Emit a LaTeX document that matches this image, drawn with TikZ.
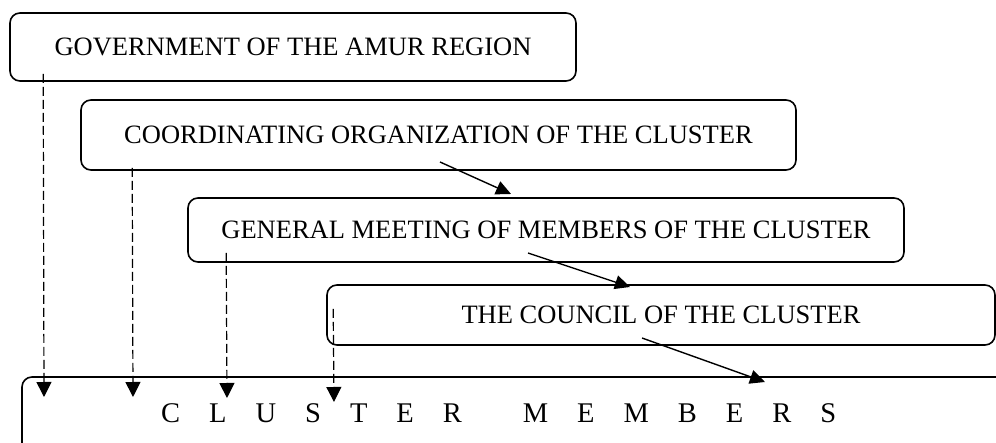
\documentclass[tikz,border=0pt]{standalone}
\usepackage{fontspec}
\setmainfont{Liberation Serif}
\usetikzlibrary{arrows.meta}
\begin{document}
\begin{tikzpicture}[x=1pt,y=-1pt,
  box/.style={draw,line width=1.6pt,rounded corners=10pt,inner sep=0pt,
    font=\fontsize{26.5}{30}\selectfont},
  dasharrow/.style={line width=1.2pt,dash pattern=on 9pt off 4pt,
    -{Triangle[width=15pt,length=15pt]}},
  solidarrow/.style={line width=1.4pt,-{Triangle[width=14pt,length=15pt]}}]
\useasboundingbox (0,0) rectangle (996,443);
\node[box,minimum width=566pt,minimum height=68pt] (box1) at (293,47) {GOVERNMENT OF THE AMUR REGION};
\node[box,minimum width=715pt,minimum height=70pt] (box2) at (438.5,135) {COORDINATING ORGANIZATION OF THE CLUSTER};
\node[box,minimum width=716pt,minimum height=64pt] (box3) at (546,230) {GENERAL MEETING OF MEMBERS OF THE CLUSTER};
\node[box,minimum width=668pt,minimum height=60pt] (box4) at (661,315) {THE COUNCIL OF THE CLUSTER};
\begin{scope}
\clip (0,0) rectangle (996,443);
\node[box,minimum width=998pt,minimum height=103pt] (box5) at (521,428.5) {};
\end{scope}
\node[anchor=base west,inner sep=0pt,font=\fontsize{28.5}{32}\selectfont] (members) at (161,422)
  {C\hspace{29pt}L\hspace{29pt}U\hspace{29pt}S\hspace{29pt}T\hspace{29pt}E\hspace{29pt}R\hspace{61pt}M\hspace{29pt}E\hspace{29pt}M\hspace{29pt}B\hspace{29pt}E\hspace{29pt}R\hspace{29pt}S};
\coordinate (t1) at (44,397);
\coordinate (t2) at (133,397);
\coordinate (t3) at (227,398);
\coordinate (t4) at (334,402);
\draw[dasharrow] ([xshift=34pt,yshift=8pt]box1.south west) -- (t1);
\draw[dasharrow] ([xshift=52pt,yshift=3pt]box2.south west) -- (t2);
\draw[dasharrow] ([xshift=39pt,yshift=10pt]box3.south west) -- (t3);
\draw[dasharrow] ([xshift=7pt,yshift=37pt]box4.south west) -- (t4);
\coordinate (a1) at (440,162);
\coordinate (a2) at (511,194);
\coordinate (b1) at (528,253);
\coordinate (b2) at (630,287);
\coordinate (c1) at (642,338);
\coordinate (c2) at (765,382);
\draw[solidarrow] (a1) -- (a2);
\draw[solidarrow] (b1) -- (b2);
\draw[solidarrow] (c1) -- (c2);
\end{tikzpicture}
\end{document}
